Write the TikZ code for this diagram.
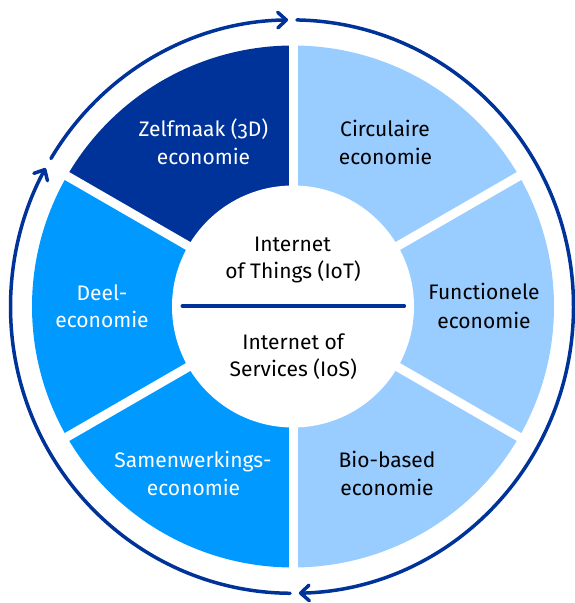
\documentclass[tikz,border=0pt]{standalone}
\usepackage{fontspec}
\setmainfont{Fira Sans}[Numbers=OldStyle]
\usetikzlibrary{arrows.meta}
\definecolor{navy}{RGB}{0,51,153}
\definecolor{midblue}{RGB}{0,153,255}
\definecolor{lightblue}{RGB}{153,204,255}
\begin{document}
\begin{tikzpicture}[x=1pt,y=1pt,
  lbl/.style={anchor=base,font=\fontsize{21}{27}\selectfont,inner sep=0pt},
  lbldark/.style={lbl,text=black},
  lblwhite/.style={lbl,text=white},
  ring/.style={draw=navy,line width=3.5pt,line cap=round,-{Straight Barb[length=8.5pt,width=15.5pt,round]}},
  gap/.style={draw=white,line width=9pt},
  divider/.style={draw=navy,line width=3.5pt,line cap=round}]
\useasboundingbox (0,0) rectangle (574,603);
\coordinate (sc) at (293,296.5);
\coordinate (rc) at (292,296.4);
% segments
\fill[navy]      (sc) -- ++(90:261pt)  arc[start angle=90, end angle=150,radius=261pt] -- cycle;
\fill[midblue]   (sc) -- ++(150:261pt) arc[start angle=150,end angle=210,radius=261pt] -- cycle;
\fill[midblue]   (sc) -- ++(210:261pt) arc[start angle=210,end angle=270,radius=261pt] -- cycle;
\fill[lightblue] (sc) -- ++(270:261pt) arc[start angle=270,end angle=330,radius=261pt] -- cycle;
\fill[lightblue] (sc) -- ++(330:261pt) arc[start angle=330,end angle=390,radius=261pt] -- cycle;
\fill[lightblue] (sc) -- ++(30:261pt)  arc[start angle=30, end angle=90, radius=261pt] -- cycle;
% gaps
\foreach \a in {30,90,150,210,270,330} \draw[gap] (sc) -- ++(\a:275pt);
\fill[white] (sc) circle[radius=121pt];
% outer ring arrows
\draw[ring] ([shift={(89:281.5pt and 286.7pt)}]rc) arc[start angle=89,end angle=-88.6,x radius=281.5pt,y radius=286.7pt];
\draw[ring] ([shift={(269.6:281.5pt and 286.7pt)}]rc) arc[start angle=269.6,end angle=151.1,x radius=281.5pt,y radius=286.7pt];
\draw[ring] ([shift={(148.9:281.5pt and 286.7pt)}]rc) arc[start angle=148.9,end angle=90.8,x radius=281.5pt,y radius=286.7pt];
% divider
\coordinate (dl) at (182.3,297);
\coordinate (dr) at (404.3,297);
\draw[divider] (dl) -- (dr);
% labels
\node[lblwhite] (zelf1) at (203.5,466) {Zelfmaak (3D)};
\node[lblwhite] (zelf2) at (203.5,438.5) {economie};
\node[lbldark] (circ1) at (385,466) {Circulaire};
\node[lbldark] (circ2) at (385.5,438.5) {economie};
\node[lblwhite] (deel1) at (102,302.5) {Deel-};
\node[lblwhite] (deel2) at (102,275) {economie};
\node[lbldark] (func1) at (484,303) {Functionele};
\node[lbldark] (func2) at (484,274.7) {economie};
\node[lblwhite] (samen1) at (193,135) {Samenwerkings-};
\node[lblwhite] (samen2) at (193.5,107.3) {economie};
\node[lbldark] (bio1) at (387,135) {Bio-based};
\node[lbldark] (bio2) at (387,107) {economie};
\node[lbldark] (iot1) at (292.5,351.3) {Internet};
\node[lbldark] (iot2) at (293,324) {of Things (IoT)};
\node[lbldark] (ios1) at (293.2,253) {Internet of};
\node[lbldark] (ios2) at (293.3,226.3) {Services (IoS)};
\end{tikzpicture}
\end{document}
